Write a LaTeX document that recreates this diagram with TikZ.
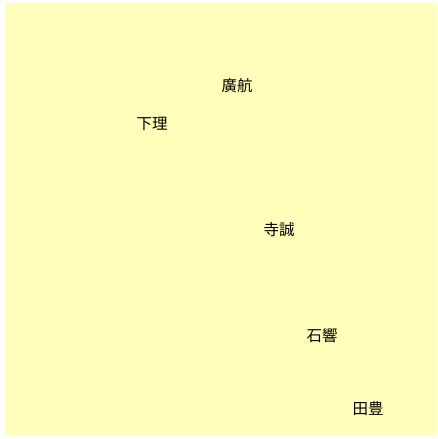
\documentclass[tikz,border=0pt]{standalone}
\usepackage{fontspec}
\newfontfamily\cjk{Noto Sans CJK JP}
\definecolor{paper}{RGB}{255,255,187}

\begin{document}
\begin{tikzpicture}[
x=1pt, y=1pt,
    N/.style = {inner sep=0pt, outer sep=0pt,% styles of name nodes
                font=\cjk\fontsize{15.5}{17}\selectfont},
                        ]
\useasboundingbox (0,0) rectangle (437,439);
\fill[paper] (5,4) rectangle (437,436);
\foreach \n/\x/\y/\t in {kou/237/353/廣航, shimo/152/315/下理, tera/279/209/寺誠,
                         ishi/322/103/石響, ta/368/30/田豊}% <-- names and positions
    \node[N] (\n) at (\x,\y) {\t};
\end{tikzpicture}
\end{document}
